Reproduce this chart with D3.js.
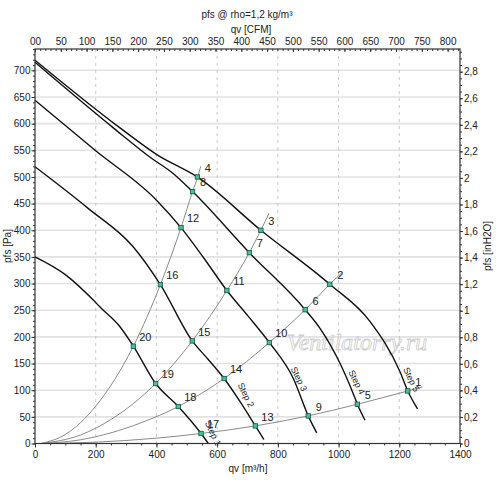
<!DOCTYPE html>
<html>
<head>
<meta charset="utf-8">
<script src="https://cdn.jsdelivr.net/npm/d3@7"></script>
<style>
  body { margin: 0; background: #fff; }
  svg { display: block; font-family: "Liberation Sans", Arial, sans-serif; }
  .tick text { fill: #222; }
</style>
</head>
<body>
<svg id="chart" width="500" height="483"></svg>
<script>
// fan curves per step, [qv m3/h, pfs Pa]
const step1 = [[0, 350], [104, 315], [192, 269], [214, 256], [280, 219], [324, 182.5], [397.5, 112.5], [472, 69.4], [547, 18.8], [571, 0]];
const step2 = [[0, 519], [176, 440.6], [324, 368.6], [413, 298], [518, 192.4], [570, 158], [623, 121.9], [675, 79], [726, 33], [754, 7.5]];
const step3 = [[0, 644], [198, 550], [401, 456], [481, 405], [556, 348], [632, 287], [702, 239], [772, 189.4], [851, 122], [900, 51.8], [928, 20]];
const step4 = [[0, 715], [258, 592], [379, 537], [456, 506], [519, 472.5], [706, 358], [890, 251], [940, 215], [1005, 150], [1048, 94], [1062, 73.7], [1087, 43.7]];
const step5 = [[0, 719], [280, 592], [401, 542], [535, 500], [744, 400], [971, 298.7], [1104, 228.5], [1202, 135], [1228, 98.6], [1260, 65]];
const stepNames = ["Step 1", "Step 2", "Step 3", "Step 4", "Step 5"];
const stepLabelAt = [[587, 19], [695, 91], [870, 121], [1060, 115], [1240, 120]];

// system curves (gray)
const systemA = [[20, 0], [200, 2.5], [400, 10], [547, 18.8], [726, 33], [900, 51.8], [1062, 73.7], [1228, 98.6], [1276, 106]];
const systemB = [[20, 0], [150, 7], [250, 20], [350, 39], [472, 69.4], [623, 121.9], [772, 189.4], [890, 251], [971, 298.7], [1010, 320]];
const systemC = [[20, 0], [150, 16], [250, 45], [397.5, 112.5], [518, 192.4], [632, 287], [706, 358], [744, 400], [771, 432]];
const systemD = [[20, 0], [100, 17], [200, 70], [324, 182.5], [413, 298], [481, 405], [519, 472.5], [536, 500], [546, 520]];

// operating points
const pointIds = [1, 2, 3, 4, 5, 6, 7, 8, 9, 10, 11, 12, 13, 14, 15, 16, 17, 18, 19, 20];
const pointQ = [1228, 971, 744, 535, 1062, 890, 706, 519, 900, 772, 632, 481, 726, 623, 518, 413, 547, 472, 397.5, 324];
const pointP = [98.6, 298.7, 400, 500, 73.7, 251, 358, 472.5, 51.8, 189.4, 287, 405, 33, 121.9, 192.4, 298, 18.8, 69.4, 112.5, 182.5];

// axis ticks
const paTicks = [0, 50, 100, 150, 200, 250, 300, 350, 400, 450, 500, 550, 600, 650, 700];
const qvTicks = [0, 200, 400, 600, 800, 1000, 1200, 1400];
const cfmTicks = [0, 50, 100, 150, 200, 250, 300, 350, 400, 450, 500, 550, 600, 650, 700, 750, 800];
const cfmLabels = ["00", "50", "100", "150", "200", "250", "300", "350", "400", "450", "500", "550", "600", "650", "700", "750", "800"];
const inTicks = [0, 0.2, 0.4, 0.6, 0.8, 1, 1.2, 1.4, 1.6, 1.8, 2, 2.2, 2.4, 2.6, 2.8];

const svg = d3.select("#chart");
const L = 35, R = 460, T = 49, B = 443.5;

const x = d3.scaleLinear().domain([0, 1400]).range([L, R]);
const y = d3.scaleLinear().domain([0, 740]).range([B, T]);
const xCfm = d3.scaleLinear().domain([0, 1400 / 1.699]).range([L, R]);
const yIn = d3.scaleLinear().domain([0, 740 / 249.089]).range([B, T]);

// grid
svg.append("g")
  .selectAll("line")
  .data(paTicks.filter(d => d > 0))
  .enter()
  .append("line")
  .attr("x1", L).attr("x2", R)
  .attr("y1", d => y(d)).attr("y2", d => y(d))
  .style("stroke", "#e2e2e2")
  .style("stroke-width", 1.6);

svg.append("g")
  .selectAll("line")
  .data(qvTicks.filter(d => d > 0 && d < 1400))
  .enter()
  .append("line")
  .attr("y1", T).attr("y2", B)
  .attr("x1", d => x(d)).attr("x2", d => x(d))
  .style("stroke", "#bdbdbd")
  .style("stroke-width", 0.8)
  .style("stroke-dasharray", "3,4");

// watermark
svg.append("text")
  .attr("x", 357).attr("y", 350)
  .attr("text-anchor", "middle")
  .style("font-family", "'Liberation Serif', 'DejaVu Serif', serif")
  .style("font-style", "italic")
  .style("font-size", "24px")
  .style("fill", "rgba(255,255,255,0.5)")
  .style("stroke", "#cfcfcf")
  .style("stroke-width", 0.9)
  .text("Ventilatorry.ru");

// system curves
const line = d3.line().x(d => x(d[0])).y(d => y(d[1])).curve(d3.curveMonotoneX);

svg.append("g")
  .selectAll("path")
  .data([systemA, systemB, systemC, systemD])
  .enter()
  .append("path")
  .attr("d", line)
  .style("fill", "none")
  .style("stroke", "#8a8a8a")
  .style("stroke-width", 1);

// fan curves
svg.append("g")
  .selectAll("path")
  .data([step1, step2, step3, step4, step5])
  .enter()
  .append("path")
  .attr("d", line)
  .style("fill", "none")
  .style("stroke", "#111")
  .style("stroke-width", 1.4);

svg.append("g")
  .selectAll("text")
  .data(stepNames)
  .enter()
  .append("text")
  .attr("transform", (d, i) => `translate(${x(stepLabelAt[i][0])},${y(stepLabelAt[i][1])}) rotate(64)`)
  .attr("text-anchor", "middle")
  .attr("dy", "0.35em")
  .style("font-size", "9px")
  .style("fill", "#222")
  .text(d => d);

// operating points
svg.append("g")
  .selectAll("rect")
  .data(pointIds)
  .enter()
  .append("rect")
  .attr("x", (d, i) => x(pointQ[i]) - 2.2)
  .attr("y", (d, i) => y(pointP[i]) - 2.2)
  .attr("width", 4.4).attr("height", 4.4)
  .style("fill", "#3fc2a0")
  .style("stroke", "#1d4f42")
  .style("stroke-width", 0.8);

svg.append("g")
  .selectAll("text")
  .data(pointIds)
  .enter()
  .append("text")
  .attr("x", (d, i) => x(pointQ[i]) + (d > 9 ? 12 : 10.5))
  .attr("y", (d, i) => y(pointP[i]) - 9)
  .attr("dy", "0.35em")
  .attr("text-anchor", "middle")
  .style("font-size", "11px")
  .style("fill", "#222")
  .text(d => d);

// frame
svg.append("rect")
  .attr("x", L).attr("y", T)
  .attr("width", R - L).attr("height", B - T)
  .style("fill", "none")
  .style("stroke", "#333")
  .style("stroke-width", 1.2);

// axes
function styleAxis(g) {
  g.select(".domain").remove();
  g.selectAll(".tick line").style("stroke", "#333");
  g.selectAll(".tick text").style("font-size", "10px").style("font-family", "'Liberation Sans', Arial, sans-serif");
}

svg.append("g").attr("transform", `translate(${L},0)`)
  .call(d3.axisLeft(y).tickValues(d3.range(0, 741, 10)).tickSize(2).tickFormat(""))
  .call(styleAxis);
svg.append("g").attr("transform", `translate(${L},0)`)
  .call(d3.axisLeft(y).tickValues(paTicks).tickSize(3.5).tickPadding(1))
  .call(styleAxis);

svg.append("g").attr("transform", `translate(${R},0)`)
  .call(d3.axisRight(yIn).tickValues(d3.range(0, 2.96, 0.05)).tickSize(2).tickFormat(""))
  .call(styleAxis);
svg.append("g").attr("transform", `translate(${R},0)`)
  .call(d3.axisRight(yIn).tickValues(inTicks).tickSize(3).tickPadding(1)
    .tickFormat(d => String(+d.toFixed(1)).replace(".", ",")))
  .call(styleAxis);

svg.append("g").attr("transform", `translate(0,${B})`)
  .call(d3.axisBottom(x).tickValues(d3.range(0, 1401, 50)).tickSize(2).tickFormat(""))
  .call(styleAxis);
svg.append("g").attr("transform", `translate(0,${B})`)
  .call(d3.axisBottom(x).tickValues(qvTicks).tickSize(4).tickPadding(3).tickFormat(d3.format("d")))
  .call(styleAxis);

svg.append("g").attr("transform", `translate(0,${T})`)
  .call(d3.axisTop(xCfm).tickValues(d3.range(0, 821, 10)).tickSize(-2).tickFormat(""))
  .call(styleAxis);
svg.append("g").attr("transform", `translate(0,${T})`)
  .call(d3.axisTop(xCfm).tickValues(cfmTicks).tickSize(-3).tickPadding(4)
    .tickFormat((d, i) => cfmLabels[i]))
  .call(styleAxis);

// titles
svg.append("text")
  .attr("x", 247).attr("y", 18)
  .attr("text-anchor", "middle")
  .style("font-size", "10px")
  .style("fill", "#222")
  .text("pfs @ rho=1,2 kg/m³");

svg.append("text")
  .attr("x", 251).attr("y", 33)
  .attr("text-anchor", "middle")
  .style("font-size", "10px")
  .style("fill", "#222")
  .text("qv [CFM]");

svg.append("text")
  .attr("x", 248).attr("y", 472)
  .attr("text-anchor", "middle")
  .style("font-size", "10px")
  .style("fill", "#222")
  .text("qv [m³/h]");

svg.append("text")
  .attr("transform", "translate(11,246) rotate(-90)")
  .attr("text-anchor", "middle")
  .style("font-size", "10px")
  .style("fill", "#222")
  .text("pfs [Pa]");

svg.append("text")
  .attr("transform", "translate(491,246) rotate(-90)")
  .attr("text-anchor", "middle")
  .style("font-size", "10px")
  .style("fill", "#222")
  .text("pfs [inH2O]");
</script>
</body>
</html>
